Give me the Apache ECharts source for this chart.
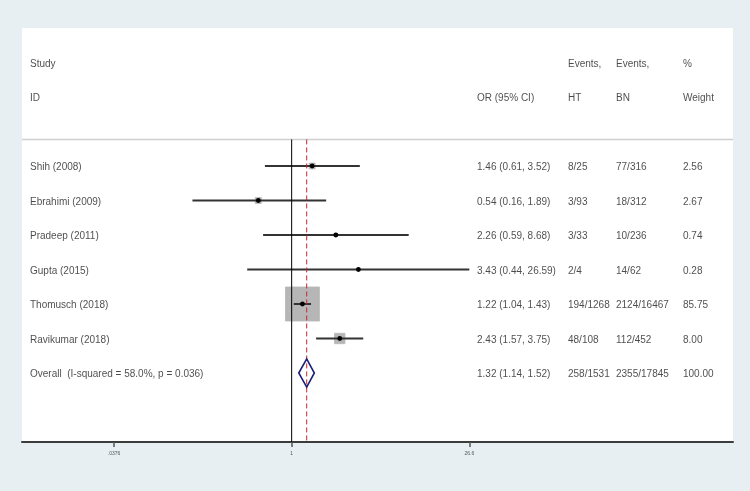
<!DOCTYPE html>
<html>
<head>
<meta charset="utf-8">
<script src="https://cdn.jsdelivr.net/npm/echarts@6/dist/echarts.min.js"></script>
<style>
  html, body { margin: 0; padding: 0; background: #e8eff2; }
  #chart { width: 750px; height: 491px; }
</style>
</head>
<body>
<div id="chart"></div>
<script>
// forest plot data
const studies = ['Shih (2008)', 'Ebrahimi (2009)', 'Pradeep (2011)', 'Gupta (2015)', 'Thomusch (2018)', 'Ravikumar (2018)'];
const orValues = [1.46, 0.54, 2.26, 3.43, 1.22, 2.43];
const ciLower = [0.61, 0.16, 0.59, 0.44, 1.04, 1.57];
const ciUpper = [3.52, 1.89, 8.68, 26.59, 1.43, 3.75];
const eventsHT = ['8/25', '3/93', '3/33', '2/4', '194/1268', '48/108'];
const eventsBN = ['77/316', '18/312', '10/236', '14/62', '2124/16467', '112/452'];
const weights = [2.56, 2.67, 0.74, 0.28, 85.75, 8.00];

const overallLabel = 'Overall  (I-squared = 58.0%, p = 0.036)';
const overallOR = [1.32, 1.14, 1.52];
const overallHT = '258/1531';
const overallBN = '2355/17845';
const overallWeight = '100.00';

const tickValues = [0.0376, 1, 26.6];
const tickLabels = ['.0376', '1', '26.6'];

const FONT = '"Liberation Sans", Arial, sans-serif';
const fmt = v => v.toFixed(2);

// column positions (in panel pixels), rows on y axis
const colName = 30, colOR = 477, colHT = 568, colBN = 616, colW = 683;
const firstRow = 3, headerLine = 2.23;

let textItems = [
    [colName, 0, 'Study'], [colName, 1, 'ID'],
    [colOR, 1, 'OR (95% CI)'],
    [colHT, 0, 'Events,'], [colHT, 1, 'HT'],
    [colBN, 0, 'Events,'], [colBN, 1, 'BN'],
    [colW, 0, '%'], [colW, 1, 'Weight']
];
studies.forEach((s, i) => {
    let r = firstRow + i;
    textItems.push([colName, r, s]);
    textItems.push([colOR, r, fmt(orValues[i]) + ' (' + fmt(ciLower[i]) + ', ' + fmt(ciUpper[i]) + ')']);
    textItems.push([colHT, r, eventsHT[i]]);
    textItems.push([colBN, r, eventsBN[i]]);
    textItems.push([colW, r, fmt(weights[i])]);
});
let overallRow = firstRow + studies.length;
textItems.push([colName, overallRow, overallLabel]);
textItems.push([colOR, overallRow, fmt(overallOR[0]) + ' (' + fmt(overallOR[1]) + ', ' + fmt(overallOR[2]) + ')']);
textItems.push([colHT, overallRow, overallHT]);
textItems.push([colBN, overallRow, overallBN]);
textItems.push([colW, overallRow, overallWeight]);

const studyData = studies.map((s, i) => [
    Math.log(orValues[i]), firstRow + i, Math.log(ciLower[i]), Math.log(ciUpper[i]), weights[i]
]);
const logTicks = tickValues.map(Math.log);
const lnOverall = Math.log(overallOR[0]);

let chart = echarts.init(document.getElementById('chart'));
chart.setOption({
    backgroundColor: '#e8eff2',
    animation: false,
    grid: {
        left: 22, right: 17, top: 28, bottom: 49,
        show: true, backgroundColor: '#ffffff', borderWidth: 0
    },
    xAxis: [{
        type: 'value',
        min: -4.98, max: 8.15,
        axisLine: { show: true, onZero: false, lineStyle: { color: '#3c3c3c', width: 2 } },
        axisTick: { show: true, customValues: logTicks, length: 5, lineStyle: { color: '#555', width: 1.5 } },
        axisLabel: {
            customValues: logTicks,
            fontSize: 5, color: '#555', fontFamily: FONT, margin: 9,
            formatter: v => {
                let best = 0;
                logTicks.forEach((t, i) => { if (Math.abs(t - v) < Math.abs(logTicks[best] - v)) best = i; });
                return tickLabels[best];
            }
        },
        splitLine: { show: false }
    }, {
        type: 'value', min: 22, max: 733, show: false
    }],
    yAxis: {
        type: 'value', min: -1, max: 11, inverse: true, show: false
    },
    series: [
        {
            type: 'line', xAxisIndex: 1, silent: true, symbol: 'none',
            data: [[22, headerLine], [733, headerLine]],
            lineStyle: { color: '#cfcfcf', width: 1.5 }
        },
        {
            type: 'line', silent: true, symbol: 'none',
            data: [[0, headerLine], [0, 11]],
            lineStyle: { color: '#000', width: 1 }
        },
        {
            type: 'custom', silent: true,
            encode: { x: [0, 2, 3], y: 1 },
            data: studyData,
            renderItem: (params, api) => {
                let c = api.coord([api.value(0), api.value(1)]);
                let l = api.coord([api.value(2), api.value(1)]);
                let h = api.coord([api.value(3), api.value(1)]);
                let side = 3.67 * Math.sqrt(api.value(4));
                return {
                    type: 'group',
                    children: [
                        { type: 'rect', shape: { x: c[0] - side / 2, y: c[1] - side / 2, width: side, height: side }, style: { fill: '#b6b6b6', stroke: '#b6b6b6', lineWidth: 0.8 } },
                        { type: 'line', shape: { x1: l[0], y1: l[1], x2: h[0], y2: h[1] }, style: { stroke: '#333', lineWidth: 2 } },
                        { type: 'circle', shape: { cx: c[0], cy: c[1], r: 2.4 }, style: { fill: '#000' } }
                    ]
                };
            }
        },
        {
            type: 'line', silent: true, symbol: 'none', z: 3,
            data: [[lnOverall, headerLine], [lnOverall, 11]],
            lineStyle: { color: '#c0282d', width: 1, type: [5, 3] }
        },
        {
            type: 'custom', silent: true, z: 4,
            encode: { x: [0, 2, 3], y: 1 },
            data: [[lnOverall, overallRow, Math.log(overallOR[1]), Math.log(overallOR[2])]],
            renderItem: (params, api) => {
                let r = api.value(1);
                let pts = [
                    api.coord([api.value(2), r]),
                    api.coord([api.value(0), r - 0.41]),
                    api.coord([api.value(3), r]),
                    api.coord([api.value(0), r + 0.41])
                ];
                return {
                    type: 'polygon', shape: { points: pts },
                    style: { fill: 'rgba(255,255,255,0)', stroke: '#1c1f7a', lineWidth: 1.6 }
                };
            }
        },
        {
            type: 'scatter', xAxisIndex: 1, silent: true,
            symbolSize: 0,
            data: textItems,
            label: {
                show: true, position: 'right', distance: 0, offset: [0, 1.5],
                formatter: p => p.data[2],
                fontSize: 10, color: '#1e1e1e', fontFamily: FONT
            }
        }
    ]
});
</script>
</body>
</html>
